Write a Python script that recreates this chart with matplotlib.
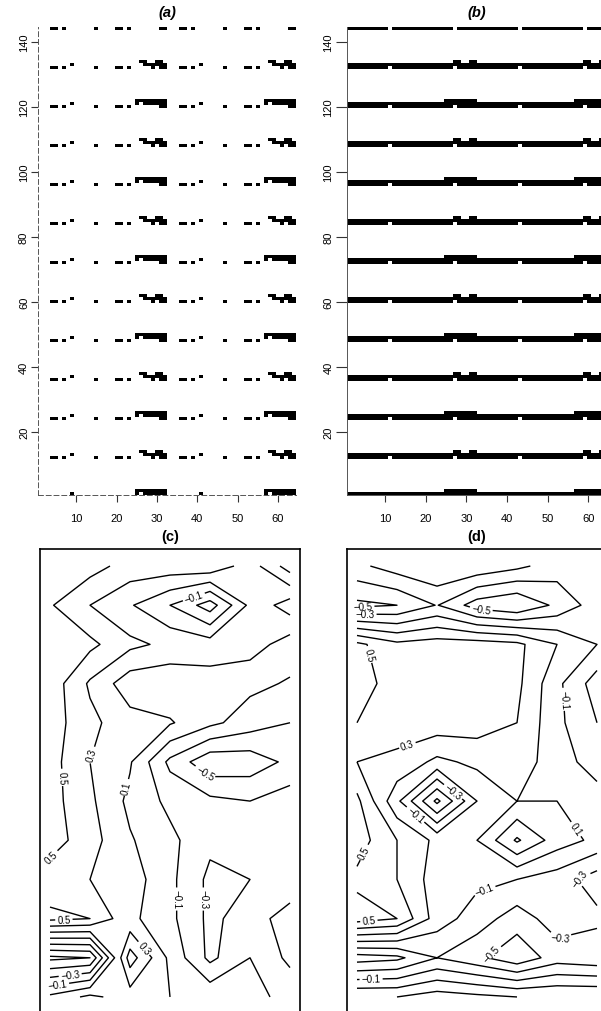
import numpy as np
import matplotlib
matplotlib.use("Agg")
import matplotlib.pyplot as plt

plt.rcParams['font.family'] = ['Liberation Sans', 'DejaVu Sans']

W, H = 601, 1012
N_COLS, N_ROWS = 64, 144
PERIOD_ROWS, PERIOD_COLS = 12, 32

# --- sparse pattern (a): columns (1-based, within a 32-column half) per band row ---
a_lower = [4, 5, 7, 15, 20, 21, 23, 31]
a_upper_A = [9, 27, 28, 29, 30, 31, 32]
a_cap_A = [26, 27, 30, 31]
a_lowerleg_A = [29, 32]
a_upper_B = [9, 25, 27, 28, 29, 30, 31, 32]
a_cap_B = [25, 26, 27, 28, 29, 30, 31, 32]
a_lowerleg_B = [31, 32]

# --- dense pattern (b) ---
b_lower_gaps = [11, 27]
b_cap_A = [27, 28, 31, 32]
b_cap_B = [25, 26, 27, 28, 29, 30, 31, 32]

x_ticks = [10, 20, 30, 40, 50, 60]
y_ticks = [20, 40, 60, 80, 100, 120, 140]

# --- gridded fields for (c) and (d): 12 rows (top to bottom) x 7 columns ---
z_c = [
    [0.65, 0.58, 0.42, 0.42, 0.45, 0.20, -0.20],
    [0.52, 0.30, 0.12, -0.10, -0.40, 0.15, 0.40],
    [0.62, 0.55, 0.35, 0.25, 0.20, 0.20, 0.00],
    [0.62, 0.27, -0.02, -0.05, 0.02, -0.05, -0.12],
    [0.60, 0.35, 0.18, 0.12, -0.05, -0.20, -0.30],
    [0.58, 0.30, 0.12, -0.35, -0.65, -0.62, -0.45],
    [0.58, 0.34, 0.05, -0.15, -0.25, -0.30, -0.20],
    [0.60, 0.38, 0.12, -0.05, -0.25, -0.15, -0.20],
    [0.38, 0.30, 0.20, -0.05, -0.35, -0.30, -0.15],
    [0.55, 0.50, 0.15, -0.05, -0.35, -0.20, -0.40],
    [-0.75, -0.70, 0.60, 0.05, -0.35, -0.10, -0.35],
    [0.15, 0.35, 0.20, 0.10, 0.05, -0.05, -0.15],
]
z_d = [
    [-0.15, 0.00, 0.10, 0.05, -0.05, -0.20, -0.10],
    [-0.55, -0.50, -0.29, -0.60, -0.70, -0.45, -0.20],
    [0.55, 0.35, 0.40, 0.40, 0.35, 0.10, -0.10],
    [0.55, 0.45, 0.40, 0.40, 0.35, -0.05, -0.40],
    [0.50, 0.40, 0.42, 0.40, 0.30, -0.05, -0.30],
    [0.30, 0.25, 0.05, 0.15, 0.20, 0.00, -0.20],
    [0.55, -0.05, -0.75, -0.10, 0.10, 0.10, 0.00],
    [0.60, 0.30, 0.05, 0.10, 0.53, 0.20, 0.05],
    [0.45, 0.30, 0.00, -0.05, -0.10, -0.20, -0.40],
    [0.60, 0.50, 0.00, -0.20, -0.40, -0.20, -0.25],
    [-0.60, -0.55, -0.30, -0.45, -0.65, -0.40, -0.45],
    [0.30, 0.30, 0.40, 0.35, 0.30, 0.30, 0.30],
]
levels = [-0.7, -0.5, -0.3, -0.1, 0.1, 0.3, 0.5, 0.7]

# preferred spots for the contour labels, in grid units (column, row)
label_spots_c = [(3.6, 0.8), (0.2, 5.4), (1.3, 4.9), (1.7, 5.6), (3.75, 5.45),
                 (0.3, 7.7), (3.0, 8.5), (3.8, 8.5), (0.35, 9.1), (2.3, 9.8),
                 (0.5, 10.4), (0.2, 10.75)]
label_spots_d = [(0.15, 1.1), (0.2, 1.3), (3.1, 1.15), (0.15, 2.3), (1.3, 4.7),
                 (5.2, 3.4), (2.45, 5.7), (1.5, 6.3), (5.5, 6.7), (0.35, 7.4),
                 (3.1, 8.0), (5.5, 7.8), (0.3, 9.1), (3.3, 9.8), (5.15, 9.8),
                 (0.35, 10.45)]


def set_cols(img, row, cols):
    if 1 <= row <= N_ROWS:
        for c in cols:
            for off in range(0, N_COLS, PERIOD_COLS):
                img[row - 1, c - 1 + off] = 1


def build_sparse():
    img = np.zeros((N_ROWS, N_COLS))
    for base in range(0, N_ROWS + 1, PERIOD_ROWS):
        type_b = (base // PERIOD_ROWS) % 2 == 0
        set_cols(img, base, a_lower)
        set_cols(img, base, a_lowerleg_B if type_b else a_lowerleg_A)
        set_cols(img, base + 1, a_upper_B if type_b else a_upper_A)
        set_cols(img, base + 2, a_cap_B if type_b else a_cap_A)
    return img


def build_dense():
    img = np.zeros((N_ROWS, N_COLS))
    all_cols = list(range(1, PERIOD_COLS + 1))
    lower = [c for c in all_cols if c not in b_lower_gaps]
    for base in range(0, N_ROWS + 1, PERIOD_ROWS):
        type_b = (base // PERIOD_ROWS) % 2 == 0
        set_cols(img, base, lower)
        set_cols(img, base + 1, all_cols)
        set_cols(img, base + 2, b_cap_B if type_b else b_cap_A)
    return img


fig = plt.figure(figsize=(W / 100, H / 100), dpi=100)


def px_axes(x0, y0, x1, y1):
    return fig.add_axes([x0 / W, 1 - y1 / H, (x1 - x0) / W, (y1 - y0) / H])


def image_panel(ax, img, title, dashed, ytick_len):
    ax.imshow(img, cmap='gray_r', origin='lower', aspect='auto',
              interpolation='nearest', extent=(0.5, N_COLS + 0.5, 0.5, N_ROWS + 0.5),
              vmin=0, vmax=1)
    ax.set_xlim(0.5, N_COLS + 0.5)
    ax.set_ylim(0.5, N_ROWS + 0.5)
    ax.set_xticks(x_ticks)
    ax.set_yticks(y_ticks)
    ax.set_yticklabels([str(v) for v in y_ticks], rotation=90, va='center')
    ax.tick_params(axis='both', labelsize=8, width=0.8, color='#333333')
    ax.tick_params(axis='x', pad=8, length=5)
    ax.tick_params(axis='y', pad=1.5, length=ytick_len)
    for s in ['top', 'right']:
        ax.spines[s].set_visible(False)
    for s in ['left', 'bottom']:
        ax.spines[s].set_linewidth(0.7)
        ax.spines[s].set_color('#555555')
        if dashed:
            ax.spines[s].set_linestyle((0, (5, 3)))
    ax.set_title(title, fontsize=10.5, fontweight='bold', fontstyle='italic', pad=8)


def fmt_level(v):
    return f"{v:.1f}".replace('-', '\u2212')


def contour_panel(ax, z, title, spots):
    z = np.array(z)
    ny, nx = z.shape
    xs = np.arange(nx)
    ys = np.arange(ny)
    pad_x = 0.04 * (nx - 1)
    pad_y = 0.04 * (ny - 1)
    ax.set_xlim(-pad_x, nx - 1 + pad_x)
    ax.set_ylim(ny - 1 + pad_y, -pad_y)
    cs = ax.contour(xs, ys, z, levels=levels, colors='black', linewidths=1.0,
                    linestyles='solid')
    ax.clabel(cs, inline=True, fontsize=7, fmt=fmt_level, inline_spacing=2,
              manual=spots)
    ax.set_xticks([])
    ax.set_yticks([])
    for s in ax.spines.values():
        s.set_linewidth(1.2)
    ax.set_title(title, fontsize=10.5, fontweight='bold', pad=6)


ax_a = px_axes(38, 28.4, 296, 496.4)
image_panel(ax_a, build_sparse(), '(a)', dashed=True, ytick_len=5)

ax_b = px_axes(346.6, 28.4, 606.4, 496.4)
image_panel(ax_b, build_dense(), '(b)', dashed=False, ytick_len=8)

ax_c = px_axes(40.4, 549.8, 299.6, 1015.2)
contour_panel(ax_c, z_c, '(c)', label_spots_c)

ax_d = px_axes(347.4, 549.8, 606.6, 1015.2)
contour_panel(ax_d, z_d, '(d)', label_spots_d)

fig.savefig('out.png', dpi=100)
